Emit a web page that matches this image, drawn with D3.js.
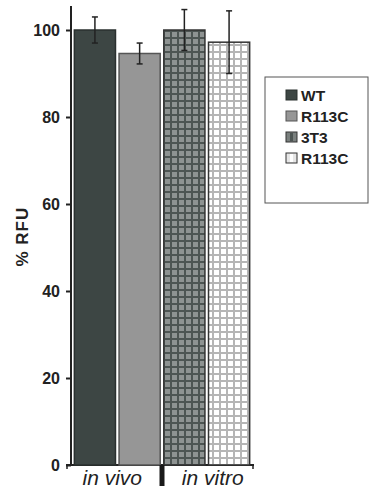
<!DOCTYPE html>
<meta charset="utf-8">
<style>
  body { margin: 0; background: #fff; }
  svg { display: block; }
  text { font-family: "Liberation Sans", Arial, sans-serif; }
</style>
<body>
<script src="https://cdn.jsdelivr.net/npm/d3@7"></script>
<script>
// data
var bars    = ["WT", "R113C", "3T3", "R113C (in vitro)"];
var values  = [100, 94.6, 100, 97.2];
var errors  = [3.0, 2.4, 4.7, 7.2];
var groups  = ["in vivo", "in vitro"];
var legendLabels = ["WT", "R113C", "3T3", "R113C"];
var yTicks  = [0, 20, 40, 60, 80, 100];

var width = 370, height = 490;

var svg = d3.select("body").append("svg")
  .attr("width", width)
  .attr("height", height);

var defs = svg.append("defs");

// grid patterns for the in vitro bars
function grid(id, bg, line) {
  var p = defs.append("pattern")
    .attr("id", id)
    .attr("patternUnits", "userSpaceOnUse")
    .attr("width", 7).attr("height", 7)
    .attr("x", 0).attr("y", 0);
  p.append("rect").attr("width", 7).attr("height", 7).attr("fill", bg);
  p.append("rect").attr("x", 2).attr("width", 2).attr("height", 7).attr("fill", line);
  p.append("rect").attr("y", 2).attr("width", 7).attr("height", 2).attr("fill", line);
}
grid("grid-dark", "#8e9392", "#4d5553");
grid("grid-light", "#ffffff", "#b5b5b5");

var fills = ["#3d4644", "#969696", "url(#grid-dark)", "url(#grid-light)"];
var strokes = ["#2a302f", "#555", "#333", "#333"];

var y = d3.scaleLinear().domain([0, 100]).range([465, 30]);

var x = d3.scaleBand()
  .domain(bars)
  .range([73, 251])
  .paddingInner(0.08)
  .paddingOuter(0.03);

// y axis
var yAxis = svg.append("g")
  .attr("transform", "translate(71,0)")
  .call(d3.axisLeft(y).tickValues(yTicks).tickSize(5).tickPadding(6));
yAxis.select(".domain").remove();
yAxis.selectAll(".tick line").attr("stroke", "#222").attr("stroke-width", 2);
yAxis.selectAll(".tick text")
  .style("font-size", "16px")
  .style("font-weight", "bold")
  .attr("fill", "#222");

svg.append("line")
  .attr("x1", 71).attr("x2", 71)
  .attr("y1", y(105.5)).attr("y2", y(0) + 1)
  .attr("stroke", "#222").attr("stroke-width", 2);

// x axis line with end ticks
svg.append("line")
  .attr("x1", 66).attr("x2", 254)
  .attr("y1", y(0)).attr("y2", y(0))
  .attr("stroke", "#222").attr("stroke-width", 2);
[67, 253].forEach(function(px) {
  svg.append("line")
    .attr("x1", px).attr("x2", px)
    .attr("y1", y(0)).attr("y2", y(0) + 4)
    .attr("stroke", "#222").attr("stroke-width", 1.5);
});

// bars
svg.selectAll("rect.bar")
  .data(values)
  .enter().append("rect")
  .attr("class", "bar")
  .attr("x", function(d, i) { return x(bars[i]); })
  .attr("y", function(d) { return y(d); })
  .attr("width", x.bandwidth())
  .attr("height", function(d) { return y(0) - y(d); })
  .attr("fill", function(d, i) { return fills[i]; })
  .attr("stroke", function(d, i) { return strokes[i]; })
  .attr("stroke-width", 1.5);

// error bars
var eb = svg.selectAll("g.err")
  .data(values)
  .enter().append("g")
  .attr("class", "err")
  .attr("stroke", "#222")
  .attr("stroke-width", 1.5);

eb.append("line")
  .attr("x1", function(d, i) { return x(bars[i]) + x.bandwidth() / 2; })
  .attr("x2", function(d, i) { return x(bars[i]) + x.bandwidth() / 2; })
  .attr("y1", function(d, i) { return y(d + errors[i]); })
  .attr("y2", function(d, i) { return y(d - errors[i]); });
[1, -1].forEach(function(s) {
  eb.append("line")
    .attr("x1", function(d, i) { return x(bars[i]) + x.bandwidth() / 2 - 3; })
    .attr("x2", function(d, i) { return x(bars[i]) + x.bandwidth() / 2 + 3; })
    .attr("y1", function(d, i) { return y(d + s * errors[i]); })
    .attr("y2", function(d, i) { return y(d + s * errors[i]); });
});

// group separator
var sepX = (x(bars[1]) + x.bandwidth() + x(bars[2])) / 2;
svg.append("rect")
  .attr("x", sepX - 2.5).attr("y", y(0))
  .attr("width", 5).attr("height", 21)
  .attr("fill", "#1a1a1a");

// group labels
var groupCenters = [
  (x(bars[0]) + x(bars[1]) + x.bandwidth()) / 2 - 5,
  (x(bars[2]) + x(bars[3]) + x.bandwidth()) / 2 + 6
];
svg.selectAll("text.group")
  .data(groups)
  .enter().append("text")
  .attr("class", "group")
  .attr("x", function(d, i) { return groupCenters[i]; })
  .attr("y", 485)
  .attr("text-anchor", "middle")
  .style("font-size", "21px")
  .style("font-style", "italic")
  .attr("fill", "#222")
  .text(function(d) { return d; });

// y label
svg.append("text")
  .attr("transform", "translate(28," + y(52.5) + ") rotate(-90)")
  .attr("text-anchor", "middle")
  .style("font-size", "17px")
  .style("font-weight", "bold")
  .style("letter-spacing", "1px")
  .attr("fill", "#222")
  .text("% RFU");

// legend
var legend = svg.append("g").attr("transform", "translate(265,77)");
legend.append("rect")
  .attr("width", 103).attr("height", 126)
  .attr("fill", "#fff")
  .attr("stroke", "#555").attr("stroke-width", 1);

var li = legend.selectAll("g.item")
  .data(legendLabels)
  .enter().append("g")
  .attr("class", "item")
  .attr("transform", function(d, i) { return "translate(21," + (18 + i * 21) + ")"; });

li.append("rect")
  .attr("x", 0).attr("y", -5)
  .attr("width", 11).attr("height", 10)
  .attr("fill", function(d, i) { return i < 2 ? fills[i] : (i === 2 ? "#7a807e" : "#e6e6e6"); })
  .attr("stroke", function(d, i) { return strokes[i]; })
  .attr("stroke-width", 1);
li.filter(function(d, i) { return i >= 2; })
  .append("rect")
  .attr("x", 4).attr("y", -4)
  .attr("width", 3).attr("height", 8)
  .attr("fill", function(d, i) { return i === 0 ? "#4d5553" : "#fff"; });

li.append("text")
  .attr("x", 15).attr("y", 5.5)
  .style("font-size", "15.5px")
  .style("font-weight", "bold")
  .attr("fill", "#222")
  .text(function(d) { return d; });
</script>
</body>
